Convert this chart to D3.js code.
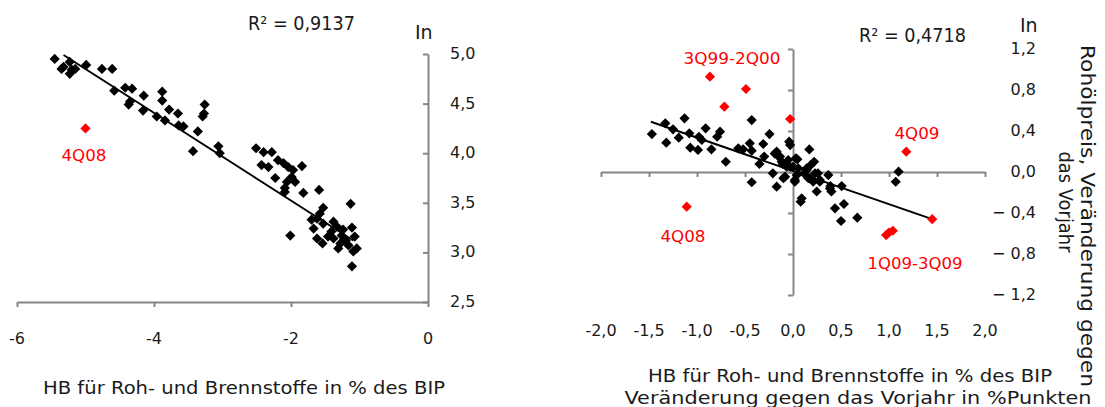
<!DOCTYPE html>
<html>
<head>
<meta charset="utf-8">
<script src="https://cdn.jsdelivr.net/npm/d3@7"></script>
<style>
  body { margin: 0; background: #fff; }
  text { font-family: "DejaVu Sans", sans-serif; fill: #1a1a1a; }
  .axis path, .axis line { stroke: #868686; stroke-width: 2; }
</style>
</head>
<body>
<div id="chart"></div>
<script>
// left panel: level of crude price (ln) vs. balance for raw materials and fuels in % of GDP
const leftX = [-5.45, -5.32, -5.35, -5.23, -5.20, -5.23, -5.15, -4.99, -4.76, -4.61, -4.58, -4.42, -4.32, -4.37, -4.35,
    -4.15, -4.16, -3.88, -3.88, -3.96, -3.84, -3.78, -3.65, -3.64, -3.57, -3.36, -3.43, -3.26, -3.27, -3.29, -3.06, -3.04,
    -2.51, -2.40, -2.28, -2.19, -2.11, -2.04, -2.43, -2.33, -2.23, -1.97, -1.84, -1.99, -1.94, -2.06, -2.09, -2.09, -1.82,
    -1.59, -1.13, -1.53, -1.58, -1.62, -1.70, -1.67, -1.53, -1.38, -1.33, -1.24, -1.11, -1.07, -2.01, -1.62, -1.54, -1.38,
    -1.28, -1.31, -1.16, -1.09, -1.04, -1.11, -1.41, -1.26, -1.20, -1.46];
const leftY = [4.95, 4.87, 4.85, 4.92, 4.84, 4.80, 4.85, 4.89, 4.85, 4.85, 4.63, 4.66, 4.65, 4.49, 4.52,
    4.58, 4.43, 4.62, 4.53, 4.37, 4.33, 4.44, 4.40, 4.28, 4.27, 4.22, 4.02, 4.49, 4.40, 4.37, 4.07, 4.00,
    4.05, 4.01, 4.01, 3.93, 3.90, 3.86, 3.88, 3.86, 3.75, 3.83, 3.87, 3.76, 3.71, 3.71, 3.65, 3.61, 3.60,
    3.63, 3.49, 3.45, 3.39, 3.34, 3.33, 3.24, 3.29, 3.31, 3.26, 3.23, 3.25, 3.16, 3.17, 3.14, 3.09, 3.14,
    3.09, 3.04, 3.07, 3.01, 3.04, 2.86, 3.21, 3.17, 3.12, 3.16];
const leftRedX = [-5.0];
const leftRedY = [4.25];
const leftRedLabels = ["4Q08"];
const leftTrendX = [-5.32, -1.09];
const leftTrendY = [4.99, 3.12];
const leftXTicks = [-6, -4, -2, 0];
const leftYTicks = [2.5, 3.0, 3.5, 4.0, 4.5, 5.0];

// right panel: year-on-year changes
const rightX = [-1.47, -1.33, -1.32, -1.25, -1.19, -1.13, -1.08, -1.07, -0.99, -0.98, -0.95, -0.91, -0.85, -0.79, -0.76,
    -0.70, -0.43, -0.57, -0.52, -0.45, -0.43, -0.43, -0.35, -0.30, -0.245, -0.31, -0.21, -0.17, -0.17, -0.15, -0.107,
    -0.083, -0.04, -0.03, -0.05, -0.117, -0.066, -0.1, -0.03, -0.135, -0.19,
    0.003, 0.02, 0.04, 0.045, 0.03, 0.09, 0.08, 0.115, 0.143, 0.16, 0.17, 0.184, 0.21, 0.22, 0.247, 0.26, 0.28,
    0.368, 0.39, 0.40, 0.507, 0.53, 0.4375, 0.5, 0.67, 1.10, 1.07,
    0.055, 0.177, 0.23, 0.385, 0.143, 0.02, 0.28];
const rightY = [0.37, 0.475, 0.286, 0.416, 0.335, 0.524, 0.377, 0.237, 0.215, 0.344, 0.312, 0.426, 0.221, 0.344, 0.393,
    0.10, 0.507, 0.231, 0.221, 0.28, -0.10, 0.208, 0.078, 0.15, 0.37, 0.273, -0.013, -0.143, 0.198, 0.15, 0.078,
    -0.046, 0.296, 0.263, 0.117, 0.10, 0.052, -0.06, 0.052, 0.15, 0.18,
    0.052, -0.078, -0.03, 0.124, 0.133, -0.257, -0.29, -0.013, 0.036, -0.06, 0.22, 0.068, -0.095, 0.10, -0.19, -0.013, -0.078,
    -0.03, -0.137, -0.19, -0.137, -0.312, -0.354, -0.478, -0.446, 0.003, -0.095,
    0.036, -0.06, -0.013, -0.16, 0.02, -0.095, -0.095];
const rightRedX = [-0.865, -0.49, -0.715, -0.03, -1.107, 1.18, 1.45, 0.97, 1.04, 1.00];
const rightRedY = [0.93, 0.81, 0.637, 0.517, -0.338, 0.198, -0.46, -0.615, -0.573, -0.59];
const rightTrendX = [-1.48, 1.45];
const rightTrendY = [0.49, -0.46];
const rightXTicks = [-2, -1.5, -1, -0.5, 0, 0.5, 1, 1.5, 2];
const rightYTicks = [-1.2, -0.8, -0.4, 0, 0.4, 0.8, 1.2];
const rightLabels = ["3Q99-2Q00", "4Q08", "4Q09", "1Q09-3Q09"];

const width = 1105, height = 407;
const svg = d3.select("#chart").append("svg")
    .attr("width", width)
    .attr("height", height);

const fmt1 = d => d3.format(".1f")(d).replace(".", ",");
const fmtY = d => (d < 0 ? "\u2212 " + fmt1(-d) : fmt1(d));
const diamond = d3.symbol(d3.symbolSquare, 52);

function drawPoints(g, xs, ys, x, y, color) {
    g.selectAll(null)
        .data(xs.map((v, i) => [v, ys[i]]))
        .enter()
        .append("path")
        .attr("d", diamond)
        .attr("fill", color)
        .attr("transform", d => `translate(${x(d[0])},${y(d[1])}) rotate(45)`);
}

// text stretched to the width it takes in the original
function label(g, x, y, txt, size, len, anchor = "middle") {
    return g.append("text")
        .attr("x", x).attr("y", y)
        .attr("text-anchor", anchor)
        .attr("font-size", size)
        .attr("textLength", len)
        .attr("lengthAdjust", "spacingAndGlyphs")
        .text(txt);
}

// ---------- left panel ----------
const xL = d3.scaleLinear().domain([-6, 0]).range([17, 428]);
const yL = d3.scaleLinear().domain([2.5, 5]).range([302, 54]);

const left = svg.append("g");

left.append("g")
    .attr("class", "axis")
    .attr("transform", `translate(0,${yL(2.5)})`)
    .call(d3.axisBottom(xL).tickValues(leftXTicks).tickSize(5).tickSizeOuter(0).tickFormat(""));

left.append("g")
    .attr("class", "axis")
    .attr("transform", `translate(${xL(0)},0)`)
    .call(d3.axisLeft(yL).tickValues(leftYTicks).tickSize(5).tickSizeOuter(0).tickFormat(""));

left.selectAll(".xlab")
    .data(leftXTicks)
    .enter()
    .append("text")
    .attr("x", d => xL(d))
    .attr("y", 344)
    .attr("text-anchor", "middle")
    .attr("font-size", 16)
    .text(d => d3.format("d")(d).replace("\u2212", "-"));

left.selectAll(".ylab")
    .data(leftYTicks)
    .enter()
    .append("text")
    .attr("x", 450)
    .attr("y", d => yL(d) + 5)
    .attr("font-size", 16)
    .text(fmt1);

left.append("line")
    .attr("x1", xL(leftTrendX[0])).attr("y1", yL(leftTrendY[0]))
    .attr("x2", xL(leftTrendX[1])).attr("y2", yL(leftTrendY[1]))
    .attr("stroke", "#000").attr("stroke-width", 2);

drawPoints(left, leftX, leftY, xL, yL, "#000");
drawPoints(left, leftRedX, leftRedY, xL, yL, "#ff0000");

label(left, 84, 161, leftRedLabels[0], 16, 45).style("fill", "#ff0000");

label(left, 248, 30, "R\u00b2 = 0,9137", 19, 107, "start");
left.append("text").attr("x", 415).attr("y", 39).attr("font-size", 19).text("In");
label(left, 244, 394, "HB für Roh- und Brennstoffe in % des BIP", 18, 402);

// ---------- right panel ----------
const xR = d3.scaleLinear().domain([-2, 2]).range([601, 985]);
const yR = d3.scaleLinear().domain([-1.2, 1.2]).range([295, 49]);

const right = svg.append("g");

right.append("g")
    .attr("class", "axis")
    .attr("transform", `translate(0,${yR(0)})`)
    .call(d3.axisBottom(xR).tickValues(rightXTicks).tickSize(5).tickSizeOuter(0).tickFormat(""));

right.append("g")
    .attr("class", "axis")
    .attr("transform", `translate(${xR(0)},0)`)
    .call(d3.axisLeft(yR).tickValues(rightYTicks).tickSize(5).tickSizeOuter(0).tickFormat(""));

right.selectAll(".xlab")
    .data(rightXTicks)
    .enter()
    .append("text")
    .attr("x", d => xR(d))
    .attr("y", 336)
    .attr("text-anchor", "middle")
    .attr("font-size", 16)
    .text(d => (d < 0 ? "-" : "") + fmt1(Math.abs(d)));

right.selectAll(".ylab")
    .data(rightYTicks)
    .enter()
    .append("text")
    .attr("x", 1036)
    .attr("y", d => yR(d) + 5)
    .attr("text-anchor", "end")
    .attr("font-size", 16)
    .text(fmtY);

right.append("line")
    .attr("x1", xR(rightTrendX[0])).attr("y1", yR(rightTrendY[0]))
    .attr("x2", xR(rightTrendX[1])).attr("y2", yR(rightTrendY[1]))
    .attr("stroke", "#000").attr("stroke-width", 2);

drawPoints(right, rightX, rightY, xR, yR, "#000");
drawPoints(right, rightRedX, rightRedY, xR, yR, "#ff0000");

const labelPos = [[732, 64, 97], [683, 242, 45], [917, 139, 45], [915, 269, 95]];
rightLabels.forEach((t, i) => {
    label(right, labelPos[i][0], labelPos[i][1], t, 16, labelPos[i][2]).style("fill", "#ff0000");
});

label(right, 859, 42, "R\u00b2 = 0,4718", 19, 107, "start");
right.append("text").attr("x", 1020).attr("y", 32).attr("font-size", 19).text("In");

label(right, 850, 382, "HB für Roh- und Brennstoffe in % des BIP", 18, 404);
label(right, 858, 404, "Veränderung gegen das Vorjahr in %Punkten", 18, 467);

label(right, 0, 0, "Rohölpreis, Veränderung gegen", 19, 342)
    .attr("transform", "translate(1081,216) rotate(90)");
label(right, 0, 0, "das Vorjahr", 19, 101)
    .attr("transform", "translate(1059,202) rotate(90)");
</script>
</body>
</html>
